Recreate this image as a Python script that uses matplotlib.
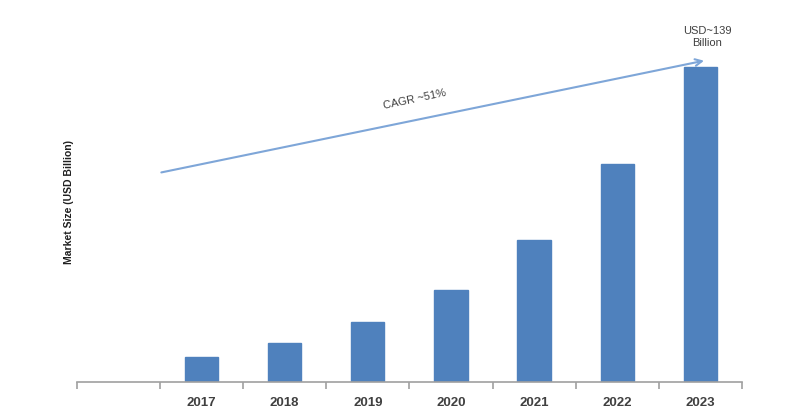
import matplotlib
matplotlib.use("Agg")
import matplotlib.pyplot as plt
import numpy as np

plt.rcParams['font.family'] = ['Liberation Sans', 'DejaVu Sans']

categories = ["", "2017", "2018", "2019", "2020", "2021", "2022", "2023"]
values = [None, 11.0, 17.2, 26.5, 40.6, 62.7, 96.2, 139.0]
y_label = "Market Size (USD Billion)"
cagr_text = "CAGR ~51%"
end_text = "USD~139\nBillion"

fig = plt.figure(figsize=(8.0, 4.13), dpi=100)
ax = fig.add_axes([0.096, 0.075, 0.8315, 0.823])

xs = [i for i, v in enumerate(values) if v is not None]
vs = [v for v in values if v is not None]
ax.bar(xs, vs, width=0.4, color="#4f81bd", edgecolor="#4f81bd", zorder=2)

ax.set_xlim(-0.5, len(categories) - 0.5)
ax.set_ylim(0, 150)

for s in ["top", "right", "left"]:
    ax.spines[s].set_visible(False)
ax.spines["bottom"].set_color("#a0a0a0")
ax.spines["bottom"].set_linewidth(1.2)

ax.set_yticks([])
ax.set_xticks(range(len(categories)))
ax.set_xticklabels(categories, fontsize=9.5, fontweight="bold", color="#404040")
ax.tick_params(axis="x", which="major", length=0, pad=11)
ax.set_xticks(np.arange(-0.5, len(categories), 1.0), minor=True)
ax.tick_params(axis="x", which="minor", length=5, color="#a0a0a0", width=1.2)

ax.set_ylabel(y_label, fontsize=7.5, fontweight="bold", color="#202020")
ax.yaxis.set_label_coords(-0.004, 0.53)

ax.annotate("", xy=(0.947, 0.947), xytext=(0.123, 0.615),
            xycoords="axes fraction", textcoords="axes fraction",
            arrowprops=dict(arrowstyle="->", color="#7ea6d8", lw=1.5,
                            mutation_scale=12), annotation_clip=False)
ax.text(0.508, 0.83, cagr_text, transform=ax.transAxes, rotation=12,
        ha="center", va="center", fontsize=8, color="#404040")
ax.text(0.948, 0.982, end_text, transform=ax.transAxes, ha="center",
        va="bottom", fontsize=8, color="#404040", linespacing=1.3)

fig.savefig("out.png", dpi=100)
